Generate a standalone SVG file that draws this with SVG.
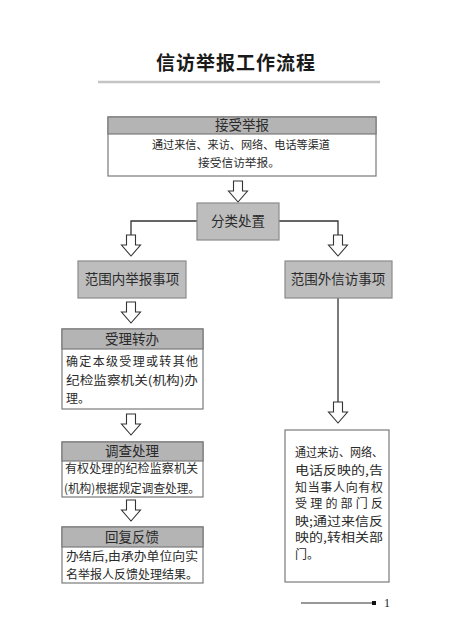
<svg xmlns="http://www.w3.org/2000/svg" width="472" height="640" viewBox="0 0 472 640">
<defs>
<style>
.t{font-family:"Noto Sans CJK SC","Noto Sans",sans-serif;fill:#2a2a2a}
.title{font-size:19px;font-weight:700;fill:#1a1a1a}
.hd{font-size:13.5px;text-anchor:middle}
.bd{font-size:12px}
.b1{font-size:11.5px}
.box{fill:#fff;stroke:#7a7a7a;stroke-width:1.2}
.hdr{fill:#b4b4b4;stroke:#7a7a7a;stroke-width:1.2}
.gbox{fill:#bdbdbd;stroke:#8a8a8a;stroke-width:1.2}
.arr{fill:#fff;stroke:#333;stroke-width:1.1}
.ln{fill:none;stroke:#333;stroke-width:1.3}
</style>
<path id="ar" d="M-4.5,0 H4.5 V10 H9.5 L0,21 L-9.5,10 H-4.5 Z"/>
</defs>
<rect width="472" height="640" fill="#fff"/>
<g id="title">
<text class="t title" x="236" y="70" text-anchor="middle" letter-spacing="1">信访举报工作流程</text>
<line x1="98" y1="82" x2="380" y2="82" stroke="#c4c4c4" stroke-width="2.5"/>
</g>
<g id="connectors">
<use href="#ar" class="arr" x="238" y="181"/>
<polyline class="ln" points="197,221 131,221 131,235"/>
<use href="#ar" class="arr" x="131" y="235"/>
<polyline class="ln" points="279,221 338,221 338,235"/>
<use href="#ar" class="arr" x="338" y="235"/>
<use href="#ar" class="arr" x="131" y="302"/>
<line class="ln" x1="338" y1="298" x2="338" y2="402"/>
<use href="#ar" class="arr" x="338" y="402"/>
<use href="#ar" class="arr" x="131" y="414"/>
<use href="#ar" class="arr" x="131" y="500"/>
</g>
<g id="n1">
<rect class="box" x="108" y="117" width="268" height="59"/>
<rect class="hdr" x="108" y="117" width="268" height="17"/>
<text class="t hd" x="242" y="130">接受举报</text>
<text class="t b1" x="152" y="149" textLength="178" lengthAdjust="spacingAndGlyphs">通过来信、来访、网络、电话等渠道</text>
<text class="t b1" x="198" y="167" textLength="82" lengthAdjust="spacingAndGlyphs">接受信访举报。</text>
</g>
<g id="n2">
<rect class="gbox" x="197" y="203" width="82" height="37"/>
<text class="t hd" x="238" y="226">分类处置</text>
</g>
<g id="n3">
<rect class="gbox" x="78" y="261" width="108" height="37"/>
<text class="t hd" x="132" y="284">范围内举报事项</text>
</g>
<g id="n4">
<rect class="gbox" x="285" y="261" width="107" height="37"/>
<text class="t hd" x="338" y="284">范围外信访事项</text>
</g>
<g id="n5">
<rect class="box" x="62" y="329" width="141" height="80"/>
<rect class="hdr" x="62" y="329" width="141" height="20"/>
<text class="t hd" x="132" y="344">受理转办</text>
<text class="t bd" x="66" y="366" textLength="132" lengthAdjust="spacing">确定本级受理或转其他</text>
<text class="t bd" x="66" y="385" textLength="132" lengthAdjust="spacingAndGlyphs">纪检监察机关(机构)办</text>
<text class="t bd" x="66" y="403">理。</text>
</g>
<g id="n6">
<rect class="box" x="62" y="442" width="141" height="55"/>
<rect class="hdr" x="62" y="442" width="141" height="19"/>
<text class="t hd" x="132" y="456">调查处理</text>
<text class="t bd" x="65" y="473" textLength="133" lengthAdjust="spacing">有权处理的纪检监察机关</text>
<text class="t bd" x="64" y="493" textLength="136" lengthAdjust="spacingAndGlyphs">(机构)根据规定调查处理。</text>
</g>
<g id="n7">
<rect class="box" x="62" y="527" width="141" height="56"/>
<rect class="hdr" x="62" y="527" width="141" height="20"/>
<text class="t hd" x="132" y="542">回复反馈</text>
<text class="t bd" x="66" y="561" textLength="132" lengthAdjust="spacingAndGlyphs">办结后,由承办单位向实</text>
<text class="t bd" x="66" y="579" textLength="132" lengthAdjust="spacing">名举报人反馈处理结果。</text>
</g>
<g id="n8">
<rect class="box" x="285" y="430" width="104" height="152"/>
<text class="t bd" x="295" y="457" textLength="88" lengthAdjust="spacingAndGlyphs">通过来访、网络、</text>
<text class="t bd" x="295" y="475" textLength="88" lengthAdjust="spacingAndGlyphs">电话反映的,告</text>
<text class="t bd" x="295" y="492" textLength="88" lengthAdjust="spacing">知当事人向有权</text>
<text class="t bd" x="295" y="508" textLength="88" lengthAdjust="spacing">受理的部门反</text>
<text class="t bd" x="295" y="526" textLength="88" lengthAdjust="spacingAndGlyphs">映;通过来信反</text>
<text class="t bd" x="295" y="542" textLength="88" lengthAdjust="spacingAndGlyphs">映的,转相关部</text>
<text class="t bd" x="295" y="559">门。</text>
</g>
<g id="footer">
<line x1="301" y1="603" x2="374" y2="603" stroke="#333" stroke-width="1.2"/>
<rect x="372" y="601" width="4" height="4" fill="#111"/>
<text x="384" y="607" font-family="Liberation Serif,serif" font-size="12" fill="#222">1</text>
</g>
</svg>
